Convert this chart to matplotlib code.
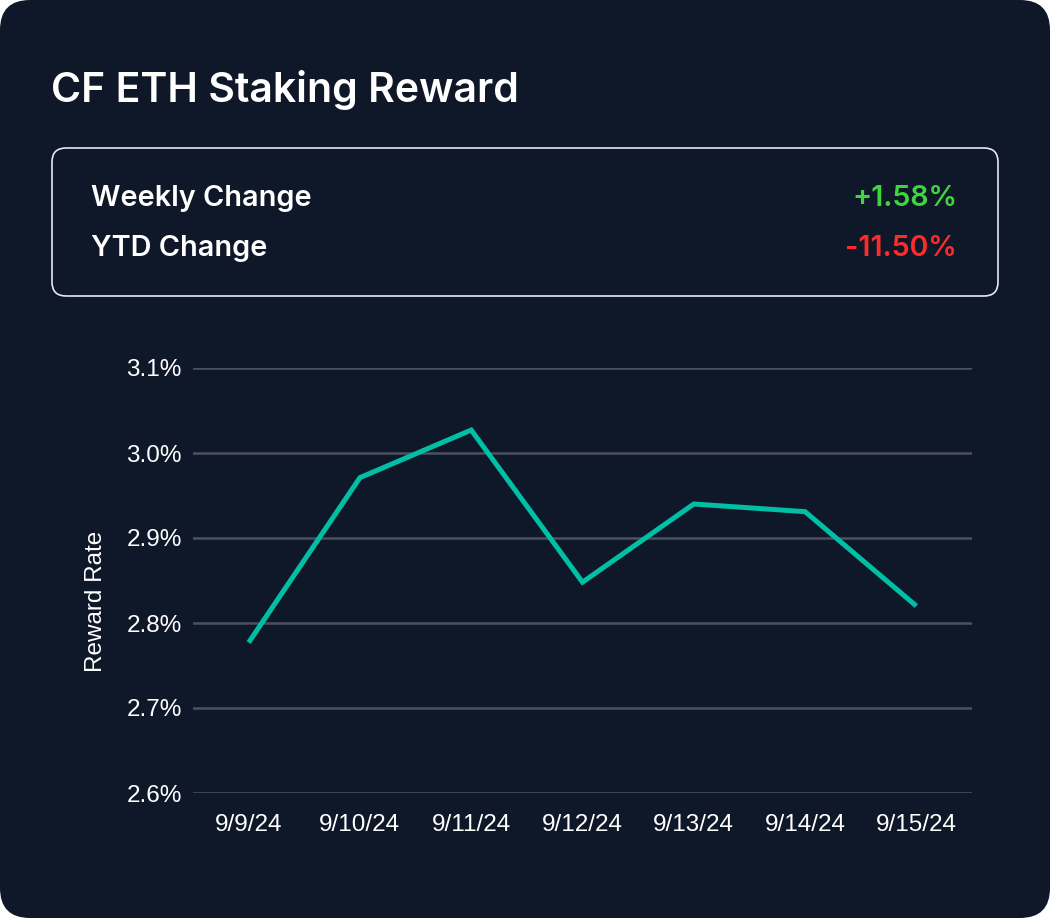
import matplotlib
matplotlib.use("Agg")
import matplotlib.pyplot as plt
from matplotlib.patches import FancyBboxPatch
from matplotlib.ticker import FuncFormatter

dates = ["9/9/24", "9/10/24", "9/11/24", "9/12/24", "9/13/24", "9/14/24", "9/15/24"]
reward_rate = [2.777, 2.971, 3.027, 2.848, 2.940, 2.931, 2.820]
y_ticks = [2.6, 2.7, 2.8, 2.9, 3.0, 3.1]
title = "CF ETH Staking Reward"
stat_labels = ["Weekly Change", "YTD Change"]
stat_values = ["+1.58%", "-11.50%"]

W, H = 1050, 918
BG = "#0f1828"
fig = plt.figure(figsize=(W / 100, H / 100), dpi=100)
fig.patch.set_facecolor("white")

# overlay axes in pixel coords
bg = fig.add_axes([0, 0, 1, 1])
bg.set_xlim(0, W)
bg.set_ylim(H, 0)
bg.axis("off")
bg.add_patch(FancyBboxPatch((0, 0), W, H, boxstyle="round,pad=0,rounding_size=30",
                            facecolor=BG, edgecolor="none"))
bg.add_patch(FancyBboxPatch((52, 148), 946, 148, boxstyle="round,pad=0,rounding_size=14",
                            facecolor="none", edgecolor="#e6e8ec", linewidth=1.2))
bg.text(51, 90, title, color="white", fontsize=29.5, fontfamily="Inter",
        fontweight="semibold", va="center", ha="left")
stat_colors = ["#3ed63e", "#ff2b2b"]
for i, (lab, val) in enumerate(zip(stat_labels, stat_values)):
    yy = 198 + i * 50
    bg.text(91, yy, lab, color="white", fontsize=20.8, fontfamily="Inter",
            fontweight="semibold", va="center", ha="left")
    bg.text(957, yy, val, color=stat_colors[i], fontsize=20.5, fontfamily="Inter",
            fontweight="semibold", va="center", ha="right")

# chart axes
x0, x1, ytop, ybot = 193, 972, 368, 793
ax = fig.add_axes([x0 / W, (H - ybot) / H, (x1 - x0) / W, (ybot - ytop) / H])
ax.set_facecolor("none")
xs = list(range(len(dates)))
ax.plot(xs, reward_rate, color="#00bfa5", linewidth=3.6, solid_joinstyle="miter",
        solid_capstyle="butt", zorder=3)
ax.set_xlim(-0.5, len(dates) - 0.5)
ax.set_ylim(2.6, 3.1)
ax.set_yticks(y_ticks)
ax.yaxis.set_major_formatter(FuncFormatter(lambda v, p: f"{v:.1f}%"))
ax.set_xticks(xs)
ax.set_xticklabels(dates)
ax.grid(axis="y", color="#4b515e", linewidth=1.8)
ax.set_axisbelow(True)
for s in ax.spines.values():
    s.set_visible(False)
ax.tick_params(length=0, colors="white", labelsize=17.5)
for lab in ax.get_xticklabels() + ax.get_yticklabels():
    lab.set_fontfamily("Liberation Sans")
ax.tick_params(axis="y", pad=8)
ax.tick_params(axis="x", pad=15)
ax.set_ylabel("Reward Rate", color="white", fontsize=17.5, fontfamily="Liberation Sans")
ax.yaxis.set_label_coords(-0.110, 0.45)

fig.savefig("out.png", dpi=100, facecolor=fig.get_facecolor())
